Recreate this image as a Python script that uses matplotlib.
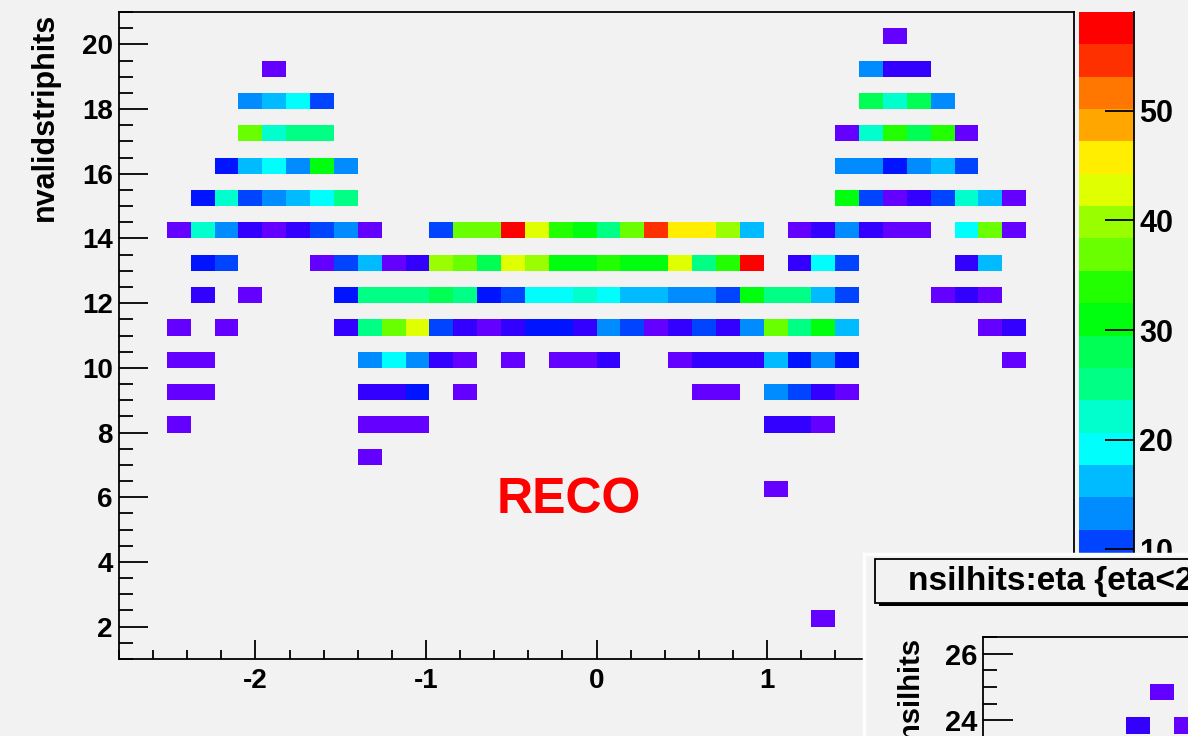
import colorsys
import numpy as np
import matplotlib.pyplot as plt
from matplotlib.colors import ListedColormap, BoundaryNorm
from matplotlib.patches import Rectangle
from matplotlib.ticker import MultipleLocator

plt.rcParams['font.family'] = ['Liberation Sans', 'DejaVu Sans']
plt.rcParams['font.weight'] = 'bold'
plt.rcParams['axes.unicode_minus'] = False

W, H = 1188, 736
BG = '#f2f2f2'

# TH2 binning: eta 40 bins in [-2.8, 2.8], nvalidstriphits 40 bins in [1, 21]
eta_edges = np.linspace(-2.8, 2.8, 41)
hits_edges = np.linspace(1, 21, 41)

# entries per eta bin for each nvalidstriphits value (empty rows left out)
hits_20 = [0, 0, 0, 0, 0, 0, 0, 0, 0, 0, 0, 0, 0, 0, 0, 0, 0, 0, 0, 0, 0, 0, 0, 0, 0, 0, 0, 0, 0, 0, 0, 0, 1, 0, 0, 0, 0, 0, 0, 0]
hits_19 = [0, 0, 0, 0, 0, 0, 1, 0, 0, 0, 0, 0, 0, 0, 0, 0, 0, 0, 0, 0, 0, 0, 0, 0, 0, 0, 0, 0, 0, 0, 0, 13, 4, 4, 0, 0, 0, 0, 0, 0]
hits_18 = [0, 0, 0, 0, 0, 13, 16, 19, 10, 0, 0, 0, 0, 0, 0, 0, 0, 0, 0, 0, 0, 0, 0, 0, 0, 0, 0, 0, 0, 0, 0, 28, 22, 28, 13, 0, 0, 0, 0, 0]
hits_17 = [0, 0, 0, 0, 0, 37, 22, 25, 25, 0, 0, 0, 0, 0, 0, 0, 0, 0, 0, 0, 0, 0, 0, 0, 0, 0, 0, 0, 0, 0, 1, 22, 34, 28, 34, 1, 0, 0, 0, 0]
hits_16 = [0, 0, 0, 0, 7, 16, 19, 13, 31, 13, 0, 0, 0, 0, 0, 0, 0, 0, 0, 0, 0, 0, 0, 0, 0, 0, 0, 0, 0, 0, 13, 13, 7, 13, 16, 10, 0, 0, 0, 0]
hits_15 = [0, 0, 0, 7, 22, 10, 13, 16, 19, 25, 0, 0, 0, 0, 0, 0, 0, 0, 0, 0, 0, 0, 0, 0, 0, 0, 0, 0, 0, 0, 31, 10, 1, 4, 10, 22, 16, 1, 0, 0]
hits_14 = [0, 0, 1, 22, 13, 4, 1, 4, 10, 13, 1, 0, 0, 10, 37, 37, 58, 43, 34, 31, 25, 37, 55, 46, 46, 40, 16, 0, 1, 4, 13, 4, 1, 1, 0, 19, 37, 1, 0, 0]
hits_13 = [0, 0, 0, 7, 10, 0, 0, 0, 1, 10, 16, 1, 4, 40, 37, 28, 43, 40, 31, 31, 34, 31, 31, 43, 25, 34, 59, 0, 4, 19, 10, 0, 0, 0, 0, 4, 16, 0, 0, 0]
hits_12 = [0, 0, 0, 4, 0, 1, 0, 0, 0, 7, 25, 25, 25, 28, 25, 7, 10, 19, 19, 22, 19, 16, 16, 13, 13, 10, 31, 25, 25, 16, 10, 0, 0, 0, 1, 4, 1, 0, 0, 0]
hits_11 = [0, 0, 1, 0, 1, 0, 0, 0, 0, 4, 25, 37, 43, 10, 4, 1, 4, 7, 7, 4, 13, 10, 1, 4, 10, 4, 13, 37, 25, 31, 16, 0, 0, 0, 0, 0, 1, 4, 0, 0]
hits_10 = [0, 0, 1, 1, 0, 0, 0, 0, 0, 0, 13, 19, 13, 4, 1, 0, 1, 0, 1, 1, 4, 0, 0, 1, 4, 4, 4, 16, 7, 13, 7, 0, 0, 0, 0, 0, 0, 1, 0, 0]
hits_9 = [0, 0, 1, 1, 0, 0, 0, 0, 0, 0, 4, 4, 7, 0, 1, 0, 0, 0, 0, 0, 0, 0, 0, 0, 1, 1, 0, 13, 10, 4, 1, 0, 0, 0, 0, 0, 0, 0, 0, 0]
hits_8 = [0, 0, 1, 0, 0, 0, 0, 0, 0, 0, 1, 1, 1, 0, 0, 0, 0, 0, 0, 0, 0, 0, 0, 0, 0, 0, 0, 4, 4, 1, 0, 0, 0, 0, 0, 0, 0, 0, 0, 0]
hits_7 = [0, 0, 0, 0, 0, 0, 0, 0, 0, 0, 1, 0, 0, 0, 0, 0, 0, 0, 0, 0, 0, 0, 0, 0, 0, 0, 0, 0, 0, 0, 0, 0, 0, 0, 0, 0, 0, 0, 0, 0]
hits_6 = [0, 0, 0, 0, 0, 0, 0, 0, 0, 0, 0, 0, 0, 0, 0, 0, 0, 0, 0, 0, 0, 0, 0, 0, 0, 0, 0, 1, 0, 0, 0, 0, 0, 0, 0, 0, 0, 0, 0, 0]
hits_2 = [0, 0, 0, 0, 0, 0, 0, 0, 0, 0, 0, 0, 0, 0, 0, 0, 0, 0, 0, 0, 0, 0, 0, 0, 0, 0, 0, 0, 0, 1, 0, 0, 0, 0, 0, 0, 0, 0, 0, 0]

row_values = [2, 6, 7, 8, 9, 10, 11, 12, 13, 14, 15, 16, 17, 18, 19, 20]
row_counts = [hits_2, hits_6, hits_7, hits_8, hits_9, hits_10, hits_11, hits_12,
              hits_13, hits_14, hits_15, hits_16, hits_17, hits_18, hits_19, hits_20]

# second window (nsilhits:eta), only its top-left corner is visible
nsil_edges = [23.6, 24.1, 24.6, 25.1]
nsil_23_6 = [0, 0, 0, 0, 0, 0, 4, 0, 1, 0, 0, 0, 0, 0, 0, 0, 0, 0, 0, 0, 0, 0, 0, 0, 0, 0, 0, 0, 0, 0, 0, 0, 0, 0, 0, 0, 0, 0, 0, 0]
nsil_24_1 = [0] * 40
nsil_24_6 = [0, 0, 0, 0, 0, 0, 0, 1, 0, 0, 0, 0, 0, 0, 0, 0, 0, 0, 0, 0, 0, 0, 0, 0, 0, 0, 0, 0, 0, 0, 0, 0, 0, 0, 0, 0, 0, 0, 0, 0]

z_ticks = [10, 20, 30, 40, 50]

hist = np.zeros((len(hits_edges) - 1, len(eta_edges) - 1))
for v, c in zip(row_values, row_counts):
    hist[int(round((v - hits_edges[0]) * 2))] = c
hist = np.ma.masked_equal(hist, 0)

nsil = np.ma.masked_equal(np.array([nsil_23_6, nsil_24_1, nsil_24_6], float), 0)

# ROOT "pretty" palette (violet -> red, 50 colours) with 20 contours
pretty = [colorsys.hls_to_rgb((280 - (i + 1) * 5.6) / 360, 0.5, 1.0) for i in range(50)]
ncont = 20
pal = ListedColormap([pretty[int((j + 0.99) * 50 / ncont)] for j in range(ncont)])
zmax = hist.max()
levels = np.linspace(0, zmax, ncont + 1)
norm = BoundaryNorm(levels, ncont)


def rect(l, t, r, b):
    return [l / W, 1 - b / H, (r - l) / W, (b - t) / H]


PT = 0.72  # px -> pt at dpi 100

fig = plt.figure(figsize=(W / 100, H / 100), dpi=100, facecolor=BG)

# main histogram
ax = fig.add_axes(rect(119, 12, 1074, 659), facecolor=BG)
ax.pcolormesh(eta_edges, hits_edges, hist, cmap=pal, norm=norm, linewidth=0)
ax.set_xlim(-2.8, 2.8)
ax.set_ylim(1, 21)
ax.set_xticks([-2, -1, 0, 1, 2])
ax.xaxis.set_minor_locator(MultipleLocator(0.2))
ax.set_yticks(np.arange(2, 21, 2))
ax.yaxis.set_minor_locator(MultipleLocator(0.5))
for s in ax.spines.values():
    s.set_linewidth(1.3)
ax.tick_params(axis='x', which='major', direction='in', length=19 * PT, width=1.3,
               pad=9 * PT, labelsize=20)
ax.tick_params(axis='x', which='minor', direction='in', length=9 * PT, width=1.3)
ax.tick_params(axis='y', which='major', direction='in', length=29 * PT, width=1.3,
               pad=6 * PT, labelsize=20)
ax.tick_params(axis='y', which='minor', direction='in', length=14 * PT, width=1.3)

fig.text(45 / W, 1 - 13 / H, 'nvalidstriphits', rotation=90, ha='center', va='top',
         fontsize=22)
fig.text(569 / W, 1 - 513 / H, 'RECO', color='red', fontsize=36, ha='center',
         va='baseline')

# palette axis
cax = fig.add_axes(rect(1079, 12, 1134, 659), facecolor=BG)
mids = (levels[:-1] + levels[1:]) / 2
cax.pcolormesh([0, 1], levels, mids.reshape(-1, 1), cmap=pal, norm=norm, linewidth=0)
cax.set_xlim(0, 1)
cax.set_ylim(0, zmax)
for k in ['left', 'top', 'bottom']:
    cax.spines[k].set_visible(False)
cax.spines['right'].set_linewidth(1.3)
cax.set_xticks([])
cax.yaxis.tick_right()
cax.set_yticks(z_ticks)
cax.tick_params(axis='y', direction='in', length=29 * PT, width=1.3, pad=5 * PT,
                labelsize=22)

# second canvas window overlapping the bottom-right corner
win = fig.add_axes(rect(864, 554, 1200, 750), facecolor=BG, zorder=5)
win.set_xticks([])
win.set_yticks([])
win.spines['right'].set_visible(False)
win.spines['bottom'].set_visible(False)
win.spines['left'].set_color('#fdfdfd')
win.spines['top'].set_color('#fdfdfd')
win.spines['left'].set_linewidth(2.5)
win.spines['top'].set_linewidth(2.5)

fig.add_artist(Rectangle((879 / W, 1 - 606 / H), 330 / W, 44 / H, transform=fig.transFigure,
                         facecolor='black', edgecolor='none', zorder=7))
fig.add_artist(Rectangle((875 / W, 1 - 603 / H), 330 / W, 44 / H, transform=fig.transFigure,
                         facecolor=BG, edgecolor='black', linewidth=1.3, zorder=7.5))
fig.text(908 / W, 1 - 590 / H, 'nsilhits:eta {eta<2', fontsize=24, ha='left',
         va='baseline', zorder=8)

ax2 = fig.add_axes(rect(983, 637, 1938, 787), facecolor=BG, zorder=6)
ax2.pcolormesh(eta_edges, nsil_edges, nsil, cmap=pal, norm=norm, linewidth=0)
ax2.set_xlim(-2.8, 2.8)
ax2.set_ylim(22, 26.5)
ax2.set_xticks([])
ax2.set_yticks([24, 26])
ax2.yaxis.set_minor_locator(MultipleLocator(0.5))
for s in ax2.spines.values():
    s.set_linewidth(1.3)
ax2.tick_params(axis='y', which='major', direction='in', length=30 * PT, width=1.3,
                pad=6 * PT, labelsize=21)
ax2.tick_params(axis='y', which='minor', direction='in', length=14 * PT, width=1.3)
fig.text(910 / W, 1 - 637 / H, 'nsilhits', rotation=90, ha='center', va='top',
         fontsize=21, zorder=8)

fig.savefig('out.png', dpi=100, facecolor=BG)
